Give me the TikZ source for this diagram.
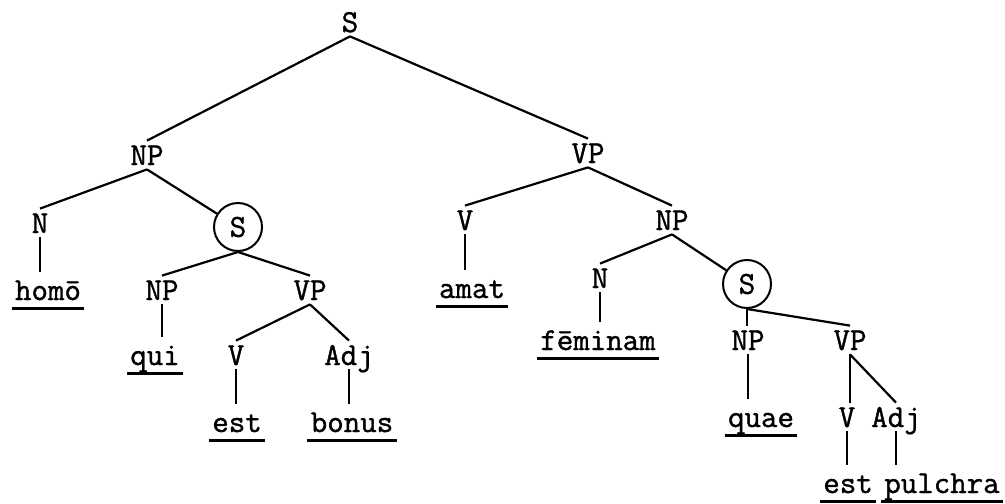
\documentclass[tikz,border=0pt]{standalone}
\usepackage{fontspec}
\usepackage{tikz}
\newfontfamily\typer{Latin Modern Mono}[FakeBold=1.2]
\begin{document}
\begin{tikzpicture}[x=0.5pt,y=-0.5pt,
  cat/.style={font=\typer\fontsize{16}{19}\selectfont,anchor=base,inner xsep=1.5pt,inner ysep=2pt,text height=10pt,text depth=0pt},
  word/.style={cat,inner ysep=4pt,append after command={(\tikzlastnode.south west) edge[line width=1.3pt] (\tikzlastnode.south east)}},
  ring/.style={circle,draw,line width=1pt,minimum size=24pt,inner sep=0pt,font=\typer\fontsize{16}{19}\selectfont},
  br/.style={line width=1.1pt}]
\useasboundingbox (0,0) rectangle (1005,503);
%categories
\node[cat] (S) at (350,32) {S};
\node[cat] (NP) at (147,165) {NP};
\node[cat] (VP) at (588,163) {VP};
\node[cat] (N) at (40,233) {N};
\node[ring] (S1) at (238,227) {S};
\node[cat] (V) at (465,230) {V};
\node[cat] (NP2) at (672,230) {NP};
\node[cat] (NPa) at (162,300) {NP};
\node[cat] (VPa) at (310,300) {VP};
\node[cat] (N2) at (600,288) {N};
\node[ring] (S2) at (747,284) {S};
\node[cat] (Va) at (236,365) {V};
\node[cat] (Adja) at (349,365) {Adj};
\node[cat] (NPb) at (748,350) {NP};
\node[cat] (VPb) at (850,350) {VP};
\node[cat] (Vb) at (847,427) {V};
\node[cat] (Adjb) at (896,427) {Adj};
%words
\node[word] (homo) at (48,300) {homō};
\node[word] (amat) at (472,298) {amat};
\node[word] (qui) at (155,365) {qui};
\node[word] (esta) at (237,432) {est};
\node[word] (bonus) at (352,432) {bonus};
\node[word] (feminam) at (598,350) {fēminam};
\node[word] (quae) at (761,427) {quae};
\node[word] (estb) at (848,493) {est};
\node[word] (pulchra) at (942,493) {pulchra};
%branches
\draw[br] (S.south) -- (NP.north);
\draw[br] (S.south) -- (VP.north);
\draw[br] (NP.south) -- (N.north);
\draw[br] (NP.south) -- (S1);
\draw[br] (VP.south) -- (V.north);
\draw[br] (VP.south) -- (NP2.north);
\draw[br] (N.south) -- (N.south |- homo.north);
\draw[br] (V.south) -- (V.south |- amat.north);
\draw[br] (S1.south) -- (NPa.north);
\draw[br] (S1.south) -- (VPa.north);
\draw[br] (NPa.south) -- (NPa.south |- qui.north);
\draw[br] (VPa.south) -- (Va.north);
\draw[br] (VPa.south) -- (Adja.north);
\draw[br] (Va.south) -- (Va.south |- esta.north);
\draw[br] (Adja.south) -- (Adja.south |- bonus.north);
\draw[br] (NP2.south) -- (N2.north);
\draw[br] (NP2.south) -- (S2);
\draw[br] (N2.south) -- (N2.south |- feminam.north);
\draw[br] (S2.south) -- (S2.south |- NPb.north);
\draw[br] (S2.south) -- (VPb.north);
\draw[br] (NPb.south) -- (NPb.south |- quae.north);
\draw[br] (VPb.south) -- (VPb.south |- Vb.north);
\draw[br] (VPb.south) -- (Adjb.north);
\draw[br] (Vb.south) -- (Vb.south |- estb.north);
\draw[br] (Adjb.south) -- (Adjb.south |- pulchra.north);
\end{tikzpicture}
\end{document}
